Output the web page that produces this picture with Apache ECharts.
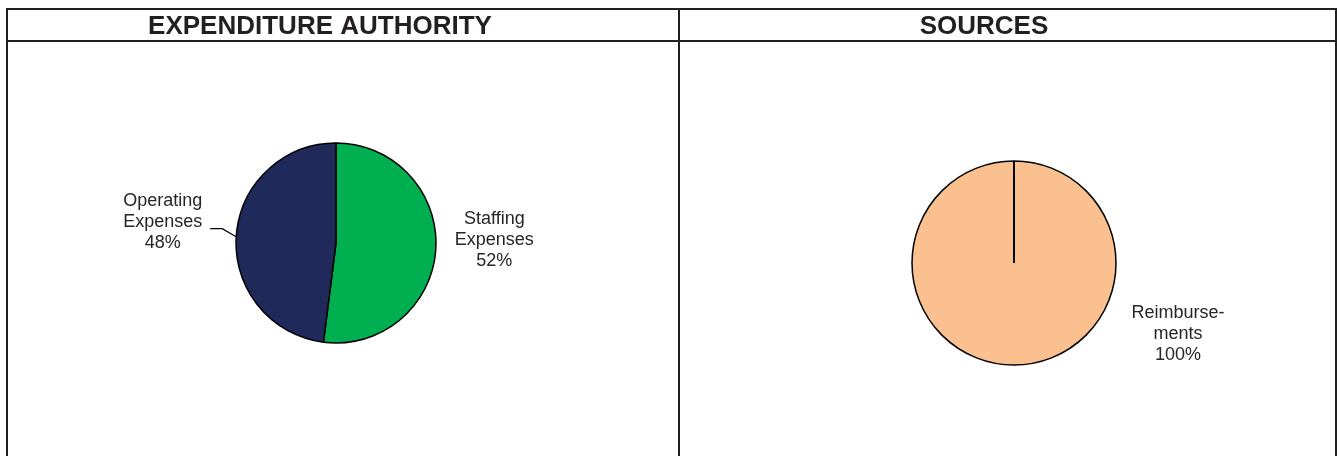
<!DOCTYPE html>
<html>
<head>
<meta charset="utf-8">
<title>Expenditure Authority / Sources</title>
<script src="https://cdn.jsdelivr.net/npm/echarts@6/dist/echarts.min.js"></script>
<style>
    html, body { margin: 0; padding: 0; background: #fff; }
    #main { width: 1340px; height: 456px; }
</style>
</head>
<body>
<div id="main"></div>
<script>
    // data
    var expNames  = ['Staffing Expenses', 'Operating Expenses'];
    var expValues = [52, 48];
    var expColors = ['#00B050', '#1F2A5A'];
    var srcNames  = ['Reimbursements'];
    var srcValues = [100];
    var srcColors = ['#FAC090'];
    // label lines, broken the way the reference breaks them
    var expLabels = [['Staffing', 'Expenses', '52%'], ['Operating', 'Expenses', '48%']];
    var srcLabels = [['Reimburse-', 'ments', '100%']];

    var font = "'Liberation Sans', Arial, sans-serif";
    var ink = '#231F20';

    function richText(lines) {
        return lines.map(function (s) { return '{c|' + s + '}'; }).join('\n');
    }
    var rich = { c: { align: 'center', fontSize: 18, lineHeight: 21, color: '#262626', fontFamily: font } };

    var myChart = echarts.init(document.getElementById('main'), null, { renderer: 'canvas' });

    var expData = expValues.map(function (v, i) {
        var item = { name: expNames[i], value: v, itemStyle: { color: expColors[i] } };
        if (i === 0) {
            item.labelLine = { show: false, length: 8, length2: 6 };
            item.label = { padding: [0, 0, 20, 0], distanceToLabelLine: 5 };
        } else {
            item.labelLine = { show: true, length: 13, length2: 13 };
            item.label = { padding: [0, 0, 28, 0], distanceToLabelLine: 8 };
        }
        return item;
    });
    var srcData = srcValues.map(function (v, i) {
        return { name: srcNames[i], value: v, itemStyle: { color: srcColors[i] } };
    });

    var borders = [
        [[7, 9], [1337, 9]],
        [[7, 41], [1337, 41]],
        [[7, 8], [7, 456]],
        [[679, 8], [679, 456]],
        [[1336, 8], [1336, 456]]
    ];

    myChart.setOption({
        animation: false,
        title: [{
            text: 'EXPENDITURE AUTHORITY',
            left: 320, top: 14, padding: 0, textAlign: 'center',
            textStyle: { fontFamily: font, fontSize: 26, fontWeight: 'bold', color: ink }
        }, {
            text: 'SOURCES',
            left: 984, top: 14, padding: 0, textAlign: 'center',
            textStyle: { fontFamily: font, fontSize: 26, fontWeight: 'bold', color: ink }
        }],
        graphic: borders.map(function (b, i) {
            return {
                id: 'b' + i, type: 'line', silent: true,
                shape: { x1: b[0][0], y1: b[0][1], x2: b[1][0], y2: b[1][1] },
                style: { stroke: ink, lineWidth: 2 }
            };
        }),
        series: [{
            type: 'pie',
            center: [336, 243],
            radius: 100,
            startAngle: 90,
            clockwise: true,
            avoidLabelOverlap: false,
            itemStyle: { borderColor: '#000', borderWidth: 1.5 },
            emphasis: { disabled: true },
            label: {
                show: true,
                position: 'outside',
                formatter: function (p) { return richText(expLabels[p.dataIndex]); },
                rich: rich
            },
            labelLine: { lineStyle: { color: '#000', width: 1.2 } },
            // bend the leader up like the reference: short slant, then flat
            labelLayout: function (params) {
                if (params.dataIndex !== 1 || !params.labelLinePoints) return {};
                var p0 = params.labelLinePoints[0];
                return {
                    labelLinePoints: [p0, [p0[0] - 14, p0[1] - 8], [p0[0] - 26, p0[1] - 8]]
                };
            },
            data: expData
        }, {
            type: 'pie',
            center: [1014, 263],
            radius: 102,
            startAngle: 90,
            clockwise: true,
            avoidLabelOverlap: false,
            itemStyle: { borderColor: '#000', borderWidth: 1.5 },
            emphasis: { disabled: true },
            label: {
                show: true,
                position: 'outside',
                formatter: function (p) { return richText(srcLabels[p.dataIndex]); },
                rich: rich
            },
            labelLine: { show: false },
            labelLayout: { x: 1178, y: 334, align: 'center', verticalAlign: 'middle' },
            data: srcData
        }]
    });

    // a single 100% slice has no radial edge in the canvas path, so draw it from the pie's own layout
    try {
        var lay = myChart.getModel().getSeriesByIndex(1).getData().getItemLayout(0);
        myChart.setOption({
            graphic: [{
                id: 'edge', type: 'line', silent: true, z: 10,
                shape: {
                    x1: lay.cx, y1: lay.cy,
                    x2: lay.cx + lay.r * Math.cos(lay.startAngle),
                    y2: lay.cy + lay.r * Math.sin(lay.startAngle)
                },
                style: { stroke: '#000', lineWidth: 2 }
            }]
        });
    } catch (e) {
        console.log(e);
    }

    window.addEventListener('resize', function () {
        myChart.resize();
    });
</script>
</body>
</html>
